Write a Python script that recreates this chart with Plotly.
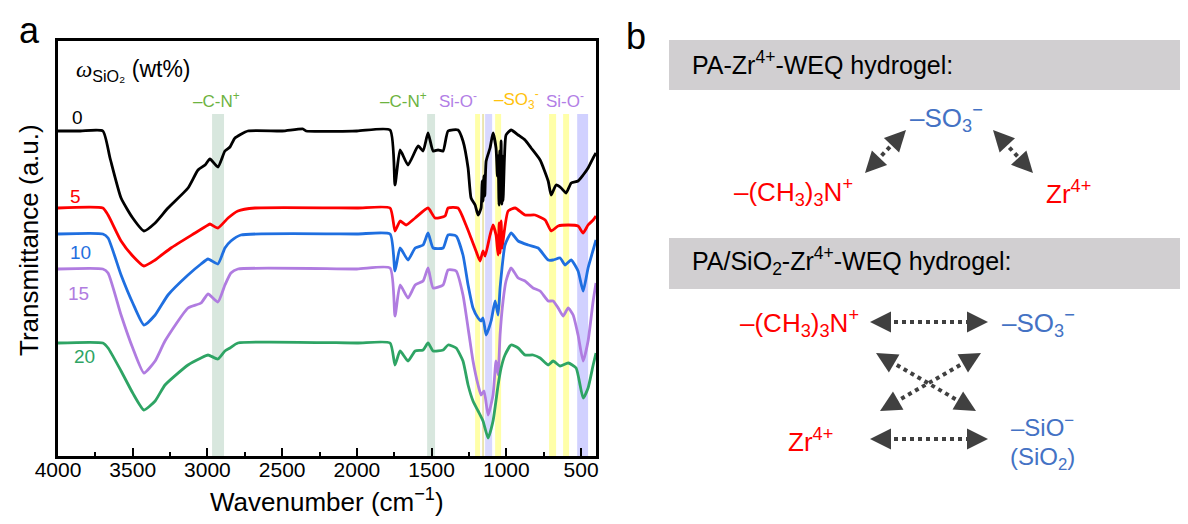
import plotly.graph_objects as go

# FTIR spectra, values (transmittance in a.u., stacked)
wn_0 = [4000, 3850, 3700, 3652, 3578, 3500, 3425, 3350, 3264, 3130, 3063, 3016, 2983, 2930, 2883,
        2849, 2816, 2729, 2500, 2360, 2340, 2000, 1778, 1745, 1711, 1658, 1590, 1557, 1524, 1490,
        1457, 1423, 1390, 1323, 1290, 1256, 1236, 1209, 1189, 1169, 1162, 1156, 1150, 1144, 1135,
        1109, 1089, 1069, 1060, 1055, 1049, 1044, 1040, 1035, 1030, 1026, 1022, 1012, 1002, 968,
        921, 875, 834, 774, 720, 700, 667, 633, 600, 566, 520, 486, 453, 419, 400]
t_0 = [325, 325, 325, 298, 258, 238, 225, 233, 248, 268, 286, 291, 297, 289, 305,
       309, 318, 325, 325, 327, 325, 325, 326, 271, 306, 291, 310, 305, 323, 305,
       306, 305, 325, 326, 315, 288, 258, 251, 241, 248, 275, 255, 280, 260, 295,
       308, 323, 308, 280, 300, 251, 305, 255, 315, 252, 300, 255, 300, 321, 326,
       321, 316, 308, 296, 275, 261, 271, 268, 263, 273, 275, 281, 288, 298, 303]

wn_5 = [4000, 3700, 3665, 3578, 3500, 3425, 3350, 3244, 3083, 2996, 2983, 2930, 2862, 2796, 2682,
        2000, 1778, 1745, 1711, 1671, 1610, 1524, 1477, 1410, 1390, 1323, 1270, 1236, 1203, 1176,
        1156, 1142, 1109, 1089, 1069, 1055, 1048, 1042, 1035, 1028, 1022, 988, 941, 875, 808,
        740, 700, 653, 586, 520, 486, 453, 419, 400]
t_5 = [248, 248, 241, 215, 200, 190, 196, 208, 223, 231, 232, 228, 238, 245, 248,
       248, 248, 225, 235, 231, 238, 248, 238, 240, 248, 248, 231, 218, 205, 195,
       205, 200, 221, 231, 221, 201, 233, 203, 235, 208, 215, 245, 248, 241, 241,
       236, 225, 230, 231, 230, 223, 231, 236, 240]

wn_10 = [4000, 3700, 3665, 3578, 3500, 3425, 3350, 3264, 3130, 3043, 2996, 2930, 2883, 2843, 2776,
         2000, 1778, 1745, 1711, 1658, 1610, 1557, 1524, 1490, 1423, 1390, 1336, 1290, 1256, 1223,
         1189, 1169, 1156, 1135, 1102, 1075, 1055, 1042, 1029, 1009, 968, 921, 854, 787, 720,
         687, 640, 607, 566, 520, 486, 453, 419, 400]
t_10 = [222, 222, 218, 181, 153, 131, 141, 161, 181, 192, 197, 192, 208, 215, 221,
        222, 222, 185, 208, 196, 208, 211, 223, 208, 208, 221, 220, 201, 171, 148,
        138, 135, 138, 121, 135, 155, 141, 168, 188, 211, 223, 215, 211, 208, 196,
        196, 198, 191, 196, 185, 165, 188, 206, 216]

wn_15 = [4000, 3700, 3665, 3578, 3500, 3425, 3350, 3284, 3130, 3043, 2996, 2930, 2883, 2843, 2796,
         2000, 1778, 1745, 1711, 1658, 1610, 1557, 1524, 1490, 1423, 1390, 1336, 1290, 1256, 1223,
         1189, 1169, 1149, 1122, 1089, 1069, 1055, 1042, 1022, 1002, 968, 921, 875, 821, 774,
         720, 687, 653, 620, 586, 553, 520, 486, 453, 419, 400]
t_15 = [187, 187, 183, 141, 108, 83, 95, 115, 148, 153, 162, 154, 171, 183, 187,
        187, 188, 140, 171, 158, 171, 175, 188, 168, 171, 186, 185, 161, 128, 95,
        71, 61, 65, 41, 61, 95, 81, 121, 155, 175, 188, 178, 175, 168, 165,
        155, 155, 148, 140, 148, 141, 121, 95, 115, 155, 173]

wn_20 = [4000, 3700, 3665, 3578, 3500, 3425, 3350, 3284, 3130, 3043, 2996, 2930, 2883, 2849, 2796,
         2000, 1778, 1745, 1711, 1658, 1610, 1557, 1524, 1490, 1423, 1390, 1336, 1290, 1256, 1223,
         1189, 1156, 1122, 1089, 1055, 1035, 1009, 968, 921, 875, 821, 774, 720, 687, 640,
         586, 533, 486, 453, 419, 400]
t_20 = [113, 113, 108, 85, 63, 46, 55, 71, 91, 98, 101, 97, 105, 108, 113,
        113, 113, 91, 105, 95, 105, 106, 113, 105, 106, 111, 108, 95, 71, 55,
        45, 35, 18, 35, 71, 88, 101, 111, 108, 101, 101, 98, 91, 95, 90,
        93, 88, 58, 68, 91, 103]

series = [("0", wn_0, t_0, "#000000", 3870, 338),
          ("5", wn_5, t_5, "#ff0000", 3880, 260),
          ("10", wn_10, t_10, "#1f6fe0", 3850, 204),
          ("15", wn_15, t_15, "#b07ce0", 3865, 163),
          ("20", wn_20, t_20, "#2ea464", 3820, 100)]

# highlighted bands (cm-1)
bands = [(2969, 2889, "rgba(190,215,200,0.6)"),
         (1530, 1477, "rgba(190,215,200,0.6)"),
         (1209, 1176, "rgba(255,255,110,0.6)"),
         (1162, 1149, "rgba(220,210,120,0.6)"),
         (1142, 1095, "rgba(190,190,255,0.6)"),
         (1075, 1035, "rgba(255,255,110,0.6)"),
         (714, 667, "rgba(255,255,110,0.6)"),
         (620, 580, "rgba(255,255,110,0.6)"),
         (526, 453, "rgba(190,190,255,0.7)")]

band_labels = [(2940, "–C-N<sup>+</sup>", "#6db33f"),
               (1690, "–C-N<sup>+</sup>", "#6db33f"),
               (1323, "Si-O<sup>-</sup>", "#b27ee6"),
               (935, "–SO<sub>3</sub><sup>-</sup>", "#ffc20e"),
               (607, "Si-O<sup>-</sup>", "#b27ee6")]

FONT = "Liberation Sans, Arial"
fig = go.Figure()

for name, x, y, col, lx, ly in series:
    fig.add_trace(go.Scatter(x=x, y=y, mode="lines", name=name,
                             line=dict(color=col, width=2.8, shape="spline", smoothing=0.5),
                             showlegend=False))
    fig.add_annotation(x=lx, y=ly, text=name, showarrow=False, xanchor="center", yanchor="middle",
                       font=dict(size=19, color=col, family=FONT))

for x0, x1, col in bands:
    fig.add_shape(type="rect", xref="x", yref="y", x0=x0, x1=x1, y0=0, y1=342,
                  fillcolor=col, line_width=0, layer="below")

for x, txt, col in band_labels:
    fig.add_annotation(x=x, y=356, text=txt, showarrow=False, xanchor="center", yanchor="middle",
                       font=dict(size=17, color=col, family=FONT))

fig.add_annotation(x=66, y=62, xref="x2", yref="y2", xanchor="left", yanchor="middle",
                   text="<span style='font-family:Liberation Serif'><i>ω</i></span>"
                        "<sub>SiO₂</sub> (wt%)", showarrow=False,
                   font=dict(size=23, color="black", family=FONT))

# ---- panel b (pixel coordinates on a hidden axis pair) ----
GRAY = "#d1cfd1"
ARW = "#404040"
RED = "#ff0000"
BLUE = "#4472c4"

fig.add_shape(type="rect", xref="x2", yref="y2", x0=661, x1=1188, y0=32, y1=82,
              fillcolor=GRAY, line_width=0, layer="below")
fig.add_shape(type="rect", xref="x2", yref="y2", x0=661, x1=1188, y0=230, y1=281,
              fillcolor=GRAY, line_width=0, layer="below")

texts_b = [(682, 55, "PA-Zr<sup>4+</sup>-WEQ hydrogel:", "black", 25, "left"),
           (682, 253, "PA/SiO<sub>2</sub>-Zr<sup>4+</sup>-WEQ hydrogel:", "black", 25, "left"),
           (938, 110, "–SO<sub>3</sub><sup>−</sup>", BLUE, 26, "center"),
           (785, 184, "–(CH<sub>3</sub>)<sub>3</sub>N<sup>+</sup>", RED, 26, "center"),
           (1060, 184, "Zr<sup>4+</sup>", RED, 26, "center"),
           (791, 315, "–(CH<sub>3</sub>)<sub>3</sub>N<sup>+</sup>", RED, 26, "center"),
           (1030, 315, "–SO<sub>3</sub><sup>−</sup>", BLUE, 26, "center"),
           (802, 432, "Zr<sup>4+</sup>", RED, 26, "center"),
           (1034, 418, "–SiO<sup>−</sup>", BLUE, 24, "center"),
           (1034, 450, "(SiO<sub>2</sub>)", BLUE, 24, "center")]
for x, y, txt, col, size, anchor in texts_b:
    fig.add_annotation(x=x, y=y, xref="x2", yref="y2", text=txt, showarrow=False,
                       xanchor=anchor, yanchor="middle",
                       font=dict(size=size, color=col, family=FONT))

arrows = [((857, 165), (898, 122)),
          ((985, 122), (1025, 165)),
          ((862, 314), (980, 314)),
          ((868, 345), (968, 403)),
          ((973, 345), (872, 403)),
          ((862, 431), (980, 431))]
for (xa, ya), (xb, yb) in arrows:
    dx, dy = xb - xa, yb - ya
    d = (dx * dx + dy * dy) ** 0.5
    ux, uy = dx / d, dy / d
    fig.add_shape(type="line", xref="x2", yref="y2",
                  x0=xa + ux * 16, y0=ya + uy * 16, x1=xb - ux * 16, y1=yb - uy * 16,
                  line=dict(color=ARW, width=4, dash="dot"))
    for (hx, hy, sx, sy) in [(xb, yb, -ux, -uy), (xa, ya, ux, uy)]:
        fig.add_annotation(x=hx, y=hy, ax=hx + sx * 14, ay=hy + sy * 14,
                           xref="x2", yref="y2", axref="x2", ayref="y2",
                           text="", showarrow=True, arrowhead=2, arrowsize=1.05,
                           arrowwidth=4, arrowcolor=ARW)

# ---- titles / panel labels (pixel coordinates) ----
other = [(319, 492, "Wavenumber (cm<sup>−1</sup>)", 26, 0),
         (21, 232, "Transmittance (a.u.)", 26, -90),
         (21, 22, "a", 36, 0),
         (628, 28, "b", 36, 0)]
for x, y, txt, size, ang in other:
    fig.add_annotation(x=x, y=y, xref="x2", yref="y2", text=txt, showarrow=False,
                       textangle=ang, xanchor="center", yanchor="middle",
                       font=dict(size=size, color="black", family=FONT))

fig.update_layout(
    template="none",
    width=1188, height=524, margin=dict(l=0, r=0, t=0, b=0, pad=0, autoexpand=False),
    paper_bgcolor="white", plot_bgcolor="rgba(0,0,0,0)",
    font=dict(family=FONT, color="black"),
    showlegend=False,
    xaxis=dict(domain=[50 / 1188, 588 / 1188], range=[4000, 400], showgrid=False, zeroline=False,
               automargin=False,
               tickvals=[4000, 3500, 3000, 2500, 2000, 1500, 1000, 500],
               ticks="inside", ticklen=8, tickwidth=2, tickcolor="black",
               ticklabelstandoff=-7,
               minor=dict(dtick=250, ticks="inside", ticklen=4, tickwidth=2, tickcolor="black",
                          showgrid=False),
               showline=True, linewidth=2.5, linecolor="black", mirror=True,
               tickfont=dict(size=21, color="black", family=FONT)),
    yaxis=dict(domain=[76 / 524, 491 / 524], range=[0, 415], showgrid=False, zeroline=False,
               automargin=False, showticklabels=False, ticks="",
               showline=True, linewidth=2.5, linecolor="black", mirror=True),
    xaxis2=dict(domain=[0, 1], range=[0, 1188], visible=False, anchor="y2", automargin=False),
    yaxis2=dict(domain=[0, 1], range=[524, 0], visible=False, anchor="x2", automargin=False),
)
fig.add_trace(go.Scatter(x=[None], y=[None], xaxis="x2", yaxis="y2", showlegend=False))

fig.write_html("out.html")
